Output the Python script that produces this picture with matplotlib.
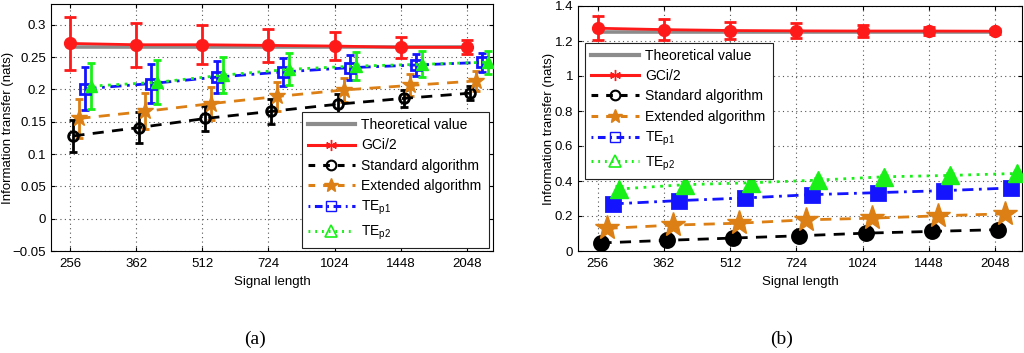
import numpy as np
import matplotlib
matplotlib.use('Agg')
import matplotlib.pyplot as plt
from matplotlib.lines import Line2D
from matplotlib.ticker import FixedLocator, FixedFormatter, NullLocator

plt.rcParams['font.family'] = ['Liberation Sans', 'DejaVu Sans']
plt.rcParams['mathtext.fontset'] = 'custom'
plt.rcParams['mathtext.rm'] = 'Liberation Sans'
plt.rcParams['mathtext.default'] = 'regular'

# ---------------- data ----------------
signal_length = [256, 362, 512, 724, 1024, 1448, 2048]
x_tick_labels = ['256', '362', '512', '724', '1024', '1448', '2048']

series_names = ['Theoretical value', 'GCi/2', 'Standard algorithm',
                'Extended algorithm', r'TE$_{\mathrm{p1}}$', r'TE$_{\mathrm{p2}}$']

# panel (a)
theo_a = [0.2655, 0.2655, 0.2655, 0.2655, 0.2655, 0.2655, 0.2655]
gci_a = [0.271, 0.269, 0.269, 0.268, 0.267, 0.265, 0.265]
gci_a_err = [0.041, 0.034, 0.030, 0.026, 0.021, 0.016, 0.011]
std_a = [0.128, 0.141, 0.155, 0.166, 0.177, 0.186, 0.194]
std_a_err = [0.025, 0.024, 0.020, 0.019, 0.016, 0.0135, 0.011]
ext_a = [0.155, 0.166, 0.178, 0.189, 0.199, 0.206, 0.213]
ext_a_err = [0.030, 0.028, 0.025, 0.022, 0.019, 0.017, 0.015]
tep1_a = [0.201, 0.209, 0.219, 0.227, 0.2335, 0.2376, 0.2417]
tep1_a_err = [0.033, 0.030, 0.025, 0.022, 0.019, 0.017, 0.015]
tep2_a = [0.205, 0.211, 0.222, 0.231, 0.236, 0.2387, 0.242]
tep2_a_err = [0.036, 0.034, 0.028, 0.025, 0.022, 0.020, 0.018]

# panel (b)
theo_b = [1.254, 1.254, 1.254, 1.254, 1.254, 1.254, 1.254]
gci_b = [1.273, 1.265, 1.260, 1.258, 1.257, 1.257, 1.256]
gci_b_err = [0.068, 0.060, 0.050, 0.043, 0.034, 0.025, 0.015]
std_b = [0.046, 0.061, 0.074, 0.087, 0.102, 0.112, 0.122]
std_b_err = [0.012, 0.011, 0.010, 0.009, 0.008, 0.007, 0.006]
ext_b = [0.129, 0.148, 0.159, 0.178, 0.1875, 0.201, 0.2125]
ext_b_err = [0.014, 0.013, 0.012, 0.011, 0.010, 0.009, 0.008]
tep1_b = [0.269, 0.288, 0.303, 0.322, 0.3335, 0.345, 0.360]
tep1_b_err = [0.014, 0.013, 0.012, 0.011, 0.010, 0.009, 0.008]
tep2_b = [0.354, 0.379, 0.390, 0.405, 0.424, 0.432, 0.443]
tep2_b_err = [0.016, 0.015, 0.014, 0.013, 0.012, 0.011, 0.010]

# ---------------- style ----------------
GRAY = '#8c8c8c'
RED = '#ff1a1a'
BLACK = '#000000'
ORANGE = '#dc7f14'
BLUE = '#1414ff'
GREEN = '#18f018'

fig = plt.figure(figsize=(10.24, 3.53), dpi=100)
ax_a = fig.add_axes([51/1024, 1-251/353, (493-51)/1024, (251-4)/353])
ax_b = fig.add_axes([578/1024, 1-251/353, (1022-578)/1024, (251-6)/353])

x = np.array(signal_length, dtype=float)


def shift(px):
    # horizontal offset in pixels on the log2 axis (66 px per half-octave)
    return 2 ** (px * 0.5 / 66.0)


def draw(ax, data, big):
    theo, gci, gci_e, std, std_e, ext, ext_e, p1, p1_e, p2, p2_e = data
    ax.plot(x, theo, color=GRAY, lw=2.6, zorder=2, solid_capstyle='butt')
    ms_scale = 1.45 if big else 1.0
    ax.errorbar(x, gci, yerr=gci_e, color=RED, lw=2.0, marker='o',
                ms=8.5, elinewidth=2.0, capsize=4, capthick=2.0, zorder=5)
    ax.errorbar(x * shift(3), std, yerr=std_e, color=BLACK, lw=2.0, marker='o',
                ms=7 * ms_scale, mfc=BLACK if big else 'none', mew=2.0,
                dashes=(4, 3), elinewidth=2.0, capsize=3, capthick=2.0, zorder=4)
    ax.errorbar(x * shift(9), ext, yerr=ext_e, color=ORANGE, lw=2.0, marker='*',
                ms=12.5 * ms_scale, dashes=(4, 3), elinewidth=2.0, capsize=3, capthick=2.0, zorder=4)
    ax.errorbar(x * shift(15), p1, yerr=p1_e, color=BLUE, lw=2.0, marker='s',
                ms=6.5 * ms_scale, mfc=BLUE if big else 'none', mew=2.0,
                dashes=(4, 2, 1, 2), elinewidth=2.0, capsize=3, capthick=2.0, zorder=4)
    ax.errorbar(x * shift(21), p2, yerr=p2_e, color=GREEN, lw=2.0, marker='^',
                ms=9 * ms_scale, dashes=(1, 2), elinewidth=2.0, capsize=3, capthick=2.0, zorder=4)

    ax.set_xscale('log', base=2)
    ax.set_xlim(2 ** (8 - 0.147), 2 ** (11 + 0.2))
    ax.xaxis.set_major_locator(FixedLocator(signal_length))
    ax.xaxis.set_major_formatter(FixedFormatter(x_tick_labels))
    ax.xaxis.set_minor_locator(NullLocator())
    ax.grid(True, which='major', linestyle=(0, (1, 3)), color='#555555', lw=0.8)
    ax.tick_params(direction='in', top=True, right=True, length=3, labelsize=9.5, width=0.8)
    ax.tick_params(axis='x', pad=5)
    ax.set_xlabel('Signal length', fontsize=9.5, labelpad=4)
    ax.set_ylabel('Information transfer (nats)', fontsize=9.5)
    for s in ax.spines.values():
        s.set_linewidth(0.8)


draw(ax_a, [theo_a, gci_a, gci_a_err, std_a, std_a_err, ext_a, ext_a_err,
            tep1_a, tep1_a_err, tep2_a, tep2_a_err], big=False)
draw(ax_b, [theo_b, gci_b, gci_b_err, std_b, std_b_err, ext_b, ext_b_err,
            tep1_b, tep1_b_err, tep2_b, tep2_b_err], big=True)

ax_a.yaxis.set_label_coords((14 - 51) / 442, 0.5)
ax_b.yaxis.set_label_coords((555 - 578) / 444, 0.5)

ax_a.set_ylim(-0.05, 0.332)
ya = [-0.05, 0, 0.05, 0.1, 0.15, 0.2, 0.25, 0.3]
ax_a.yaxis.set_major_locator(FixedLocator(ya))
ax_a.yaxis.set_major_formatter(FixedFormatter(['\u22120.05', '0', '0.05', '0.1', '0.15', '0.2', '0.25', '0.3']))

ax_b.set_ylim(0, 1.4)
yb = [0, 0.2, 0.4, 0.6, 0.8, 1.0, 1.2, 1.4]
ax_b.yaxis.set_major_locator(FixedLocator(yb))
ax_b.yaxis.set_major_formatter(FixedFormatter(['0', '0.2', '0.4', '0.6', '0.8', '1', '1.2', '1.4']))

handles = [
    Line2D([], [], color=GRAY, lw=3),
    Line2D([], [], color=RED, lw=2.2, marker=(6, 2, 0), ms=8, mew=1.0),
    Line2D([], [], color=BLACK, lw=2.2, dashes=(2.2, 2.6), marker='o', ms=7, mfc='none', mew=1.5),
    Line2D([], [], color=ORANGE, lw=2.2, dashes=(2.2, 2.6), marker='*', ms=10),
    Line2D([], [], color=BLUE, lw=2.2, dashes=(0.6, 1.5, 2.5, 1.5), marker='s', ms=6.5, mfc='none', mew=1.0),
    Line2D([], [], color=GREEN, lw=2.2, dashes=(0.6, 1.6), marker='^', ms=8, mfc='none', mew=1.2),
]

for ax, anchor in [(ax_a, (0.567, 0.027, 0.423, 0.52)), (ax_b, (0.016, 0.312, 0.423, 0.521))]:
    leg = ax.legend(handles, series_names, loc='center left', bbox_to_anchor=anchor,
                    mode='expand', fontsize=10, frameon=True, fancybox=False, framealpha=1,
                    edgecolor='#222222', handlelength=3.4, handletextpad=0.45,
                    labelspacing=0.45, borderpad=0.45, borderaxespad=0)
    leg.get_frame().set_linewidth(0.8)
    leg.set_zorder(10)

fig.text(255 / 1024, 1 - 339 / 353, '(a)', ha='center', va='center', fontsize=14,
         family=['Liberation Serif', 'DejaVu Serif'])
fig.text(782 / 1024, 1 - 339 / 353, '(b)', ha='center', va='center', fontsize=14,
         family=['Liberation Serif', 'DejaVu Serif'])

fig.savefig('out.png', dpi=100)
